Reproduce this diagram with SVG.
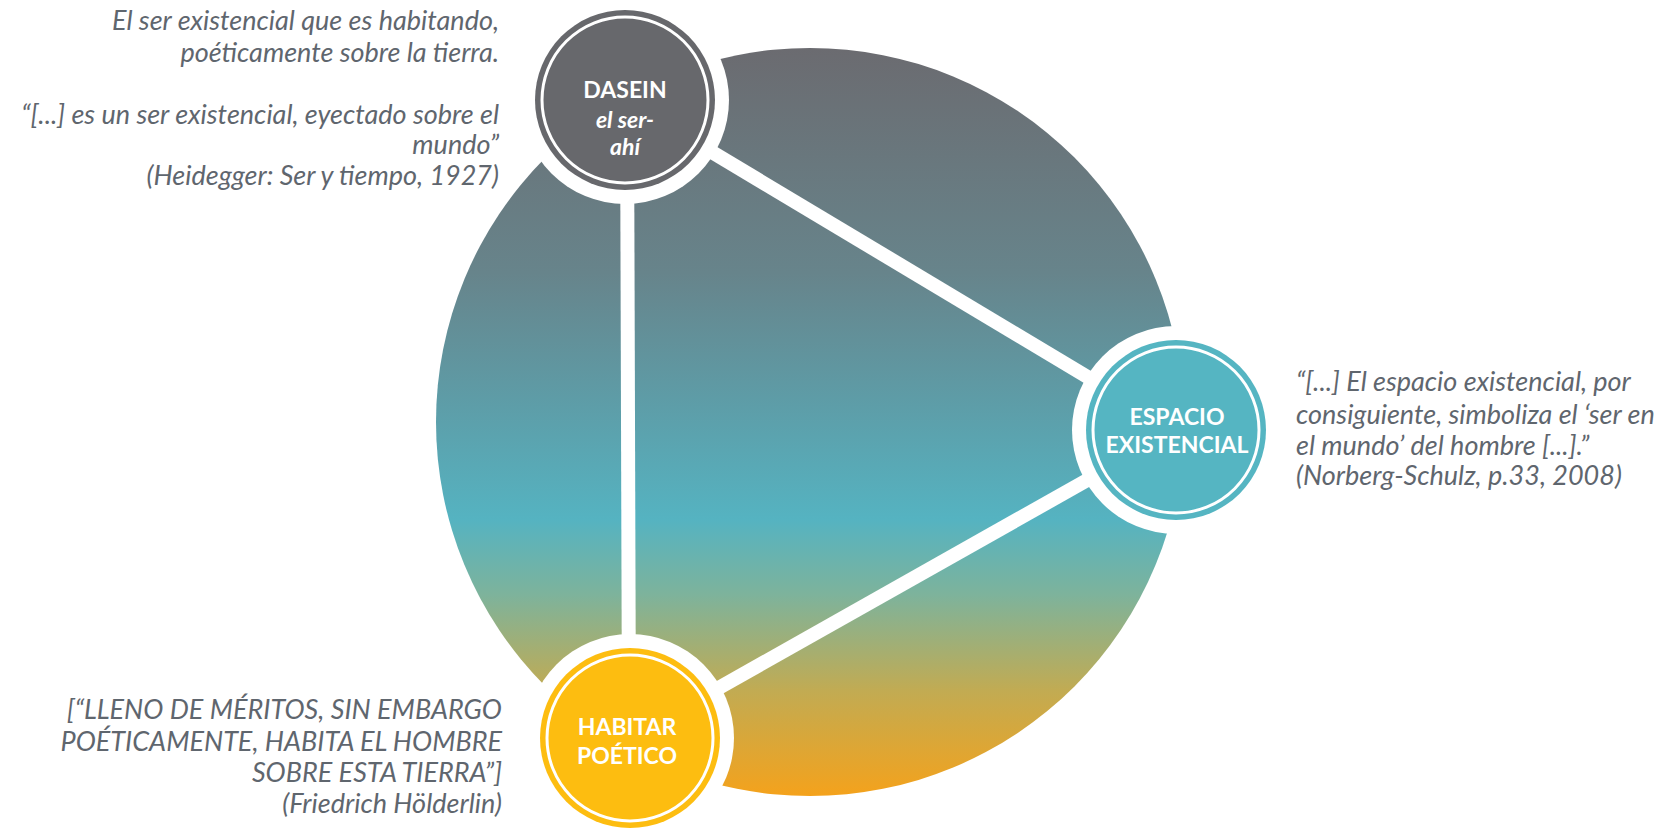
<svg xmlns="http://www.w3.org/2000/svg" width="1676" height="830" viewBox="0 0 1676 830">
<defs>
<linearGradient id="bg" x1="0" y1="48" x2="0" y2="796" gradientUnits="userSpaceOnUse">
<stop offset="0" stop-color="#6b6b70"/>
<stop offset="0.3" stop-color="#67848b"/>
<stop offset="0.63" stop-color="#55b3c1"/>
<stop offset="0.73" stop-color="#7db39c"/>
<stop offset="0.86" stop-color="#c2ab52"/>
<stop offset="1" stop-color="#f4a21c"/>
</linearGradient>
<style>
.q{font-family:Lato,"Open Sans","Liberation Sans",sans-serif;font-style:italic;font-size:27px;fill:#5f666e}
.r{text-anchor:end}
.n{font-family:Lato,"Open Sans","Liberation Sans",sans-serif;font-weight:bold;font-size:23px;fill:#ffffff;text-anchor:middle}
.ni{font-style:italic}
.halo{fill:#ffffff}
.ring{fill:none;stroke:#ffffff;stroke-width:3}
.link{stroke:#ffffff;stroke-width:14;stroke-linecap:butt}
</style>
</defs>
<rect width="1676" height="830" fill="#ffffff"/>
<circle id="ring-bg" cx="810" cy="422" r="374" fill="url(#bg)"/>
<g id="connectors">
<line class="link" x1="627" y1="100" x2="629" y2="738"/>
<line class="link" x1="625" y1="100" x2="1176" y2="430"/>
<line class="link" x1="1176" y1="430" x2="630" y2="738"/>
</g>
<g id="dasein">
<circle class="halo" cx="625" cy="100" r="104"/>
<circle cx="625" cy="100" r="90" fill="#67686c"/>
<circle class="ring" cx="625" cy="100" r="83"/>
<text class="n" x="625" y="98">DASEIN</text>
<text class="n ni" x="625" y="128">el ser-</text>
<text class="n ni" x="625" y="155">ahí</text>
</g>
<g id="espacio">
<circle class="halo" cx="1176" cy="430" r="104"/>
<circle cx="1176" cy="430" r="90" fill="#55b5c2"/>
<circle class="ring" cx="1176" cy="430" r="83"/>
<text class="n" x="1177" y="425">ESPACIO</text>
<text class="n" x="1177" y="453">EXISTENCIAL</text>
</g>
<g id="habitar">
<circle class="halo" cx="630" cy="738" r="104"/>
<circle cx="630" cy="738" r="90" fill="#fdbd10"/>
<circle class="ring" cx="630" cy="738" r="83"/>
<text class="n" x="627" y="735">HABITAR</text>
<text class="n" x="627" y="764">POÉTICO</text>
</g>
<g id="text-dasein">
<text class="q r" x="499" y="30">El ser existencial que es habitando,</text>
<text class="q r" x="499" y="62">poéticamente sobre la tierra.</text>
<text class="q r" x="499" y="124">“[...] es un ser existencial, eyectado sobre el</text>
<text class="q r" x="499" y="154">mundo”</text>
<text class="q r" x="499" y="185">(Heidegger: Ser y tiempo, 1927)</text>
</g>
<g id="text-espacio">
<text class="q" x="1296" y="391">“[...] El espacio existencial, por</text>
<text class="q" x="1296" y="424">consiguiente, simboliza el ‘ser en</text>
<text class="q" x="1296" y="455">el mundo’ del hombre [...].”</text>
<text class="q" x="1296" y="485">(Norberg-Schulz, p.33, 2008)</text>
</g>
<g id="text-habitar">
<text class="q r" x="502" y="719">[“LLENO DE MÉRITOS, SIN EMBARGO</text>
<text class="q r" x="502" y="751">POÉTICAMENTE, HABITA EL HOMBRE</text>
<text class="q r" x="502" y="782">SOBRE ESTA TIERRA”]</text>
<text class="q r" x="502" y="813">(Friedrich Hölderlin)</text>
</g>
</svg>
